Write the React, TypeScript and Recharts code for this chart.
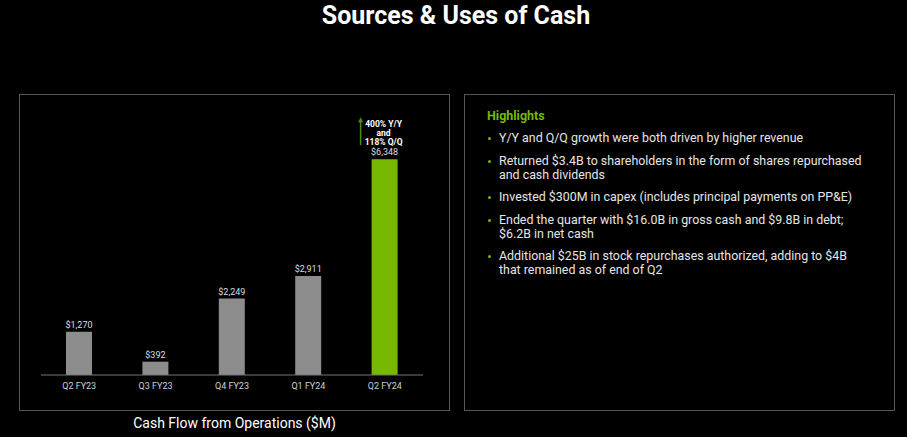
import { BarChart, Bar, XAxis, YAxis, LabelList, Cell } from "recharts";

const quarters = ["Q2 FY23", "Q3 FY23", "Q4 FY23", "Q1 FY24", "Q2 FY24"];
const cashFlow = [1270, 392, 2249, 2911, 6348];
const growthNote = ["400% Y/Y", "and", "118% Q/Q"];
const highlights = [
  ["Y/Y and Q/Q growth were both driven by higher revenue"],
  ["Returned $3.4B to shareholders in the form of shares repurchased", "and cash dividends"],
  ["Invested $300M in capex (includes principal payments on PP&E)"],
  ["Ended the quarter with $16.0B in gross cash and $9.8B in debt;", "$6.2B in net cash"],
  ["Additional $25B in stock repurchases authorized, adding to $4B", "that remained as of end of Q2"],
];

const GREEN = "#76b900";
const GREY_BAR = "#8c8c8c";
const FONT = "Roboto, 'DejaVu Sans', sans-serif";

const chartData = quarters.map((q, i) => ({ quarter: q, value: cashFlow[i] }));
const lastIdx = chartData.length - 1;

function BarLabel(props: any) {
  const { x, y, width, value, index } = props;
  const cx = x + width / 2;
  return (
    <g>
      <text x={cx} y={y - 4} textAnchor="middle" fill="#d9dee6" fontSize={9} fontFamily={FONT}>
        {"$" + Number(value).toLocaleString("en-US")}
      </text>
      {index === lastIdx && (
        <g>
          <line x1={cx - 24} x2={cx - 24} y1={y - 14} y2={y - 40} stroke="#4f8a10" strokeWidth={1.5} />
          <path d={`M${cx - 26.5},${y - 37} L${cx - 24},${y - 42} L${cx - 21.5},${y - 37} Z`} fill="#4f8a10" />
          {growthNote.map((t, i) => (
            <text
              key={t}
              x={cx - 1}
              y={y - 32 + i * 9}
              textAnchor="middle"
              fill="#ffffff"
              fontSize={8.5}
              fontWeight={700}
              fontFamily={FONT}
            >
              {t}
            </text>
          ))}
        </g>
      )}
    </g>
  );
}

export default function App() {
  return (
    <div
      style={{
        position: "absolute",
        left: 0,
        top: 0,
        width: 907,
        height: 437,
        background: "#000",
        fontFamily: FONT,
        overflow: "hidden",
      }}
    >
      <div
        style={{
          position: "absolute",
          left: 0,
          width: 912,
          top: 1,
          textAlign: "center",
          color: "#fff",
          fontSize: 25,
          fontWeight: 700,
        }}
      >
        Sources &amp; Uses of Cash
      </div>

      <div
        style={{
          position: "absolute",
          left: 19,
          top: 94,
          width: 429,
          height: 315,
          border: "1px solid #555",
        }}
      />
      <div style={{ position: "absolute", left: 20, top: 95 }}>
        <BarChart
          width={429}
          height={315}
          data={chartData}
          margin={{ top: 42, right: 26, left: 21, bottom: 5 }}
        >
          <XAxis
            dataKey="quarter"
            axisLine={{ stroke: "#777" }}
            tickLine={false}
            height={30}
            tick={{ fill: "#c9d2dc", fontSize: 9, fontFamily: FONT }}
            interval={0}
          />
          <YAxis hide domain={[0, 7000]} />
          <Bar dataKey="value" barSize={26} isAnimationActive={false}>
            {chartData.map((d, i) => (
              <Cell key={d.quarter} fill={i === lastIdx ? GREEN : GREY_BAR} />
            ))}
            <LabelList dataKey="value" content={<BarLabel />} />
          </Bar>
        </BarChart>
      </div>
      <div
        style={{
          position: "absolute",
          left: 19,
          width: 431,
          top: 415,
          textAlign: "center",
          color: "#fff",
          fontSize: 14,
        }}
      >
        Cash Flow from Operations ($M)
      </div>

      <div
        style={{
          position: "absolute",
          left: 464,
          top: 94,
          width: 429,
          height: 315,
          border: "1px solid #555",
        }}
      />
      <div style={{ position: "absolute", left: 487, top: 108, width: 400 }}>
        <div style={{ color: GREEN, fontWeight: 700, fontSize: 12.5, lineHeight: "16px", marginBottom: 7 }}>
          Highlights
        </div>
        {highlights.map((lines, i) => (
          <div key={i} style={{ position: "relative", paddingLeft: 12, marginBottom: 8.5 }}>
            <span
              style={{
                position: "absolute",
                left: 1,
                top: 6,
                width: 3,
                height: 3,
                borderRadius: 2,
                background: GREEN,
              }}
            />
            {lines.map((l) => (
              <div key={l} style={{ color: "#e6e6e6", fontSize: 12.4, lineHeight: "14px", whiteSpace: "nowrap" }}>
                {l}
              </div>
            ))}
          </div>
        ))}
      </div>
    </div>
  );
}
